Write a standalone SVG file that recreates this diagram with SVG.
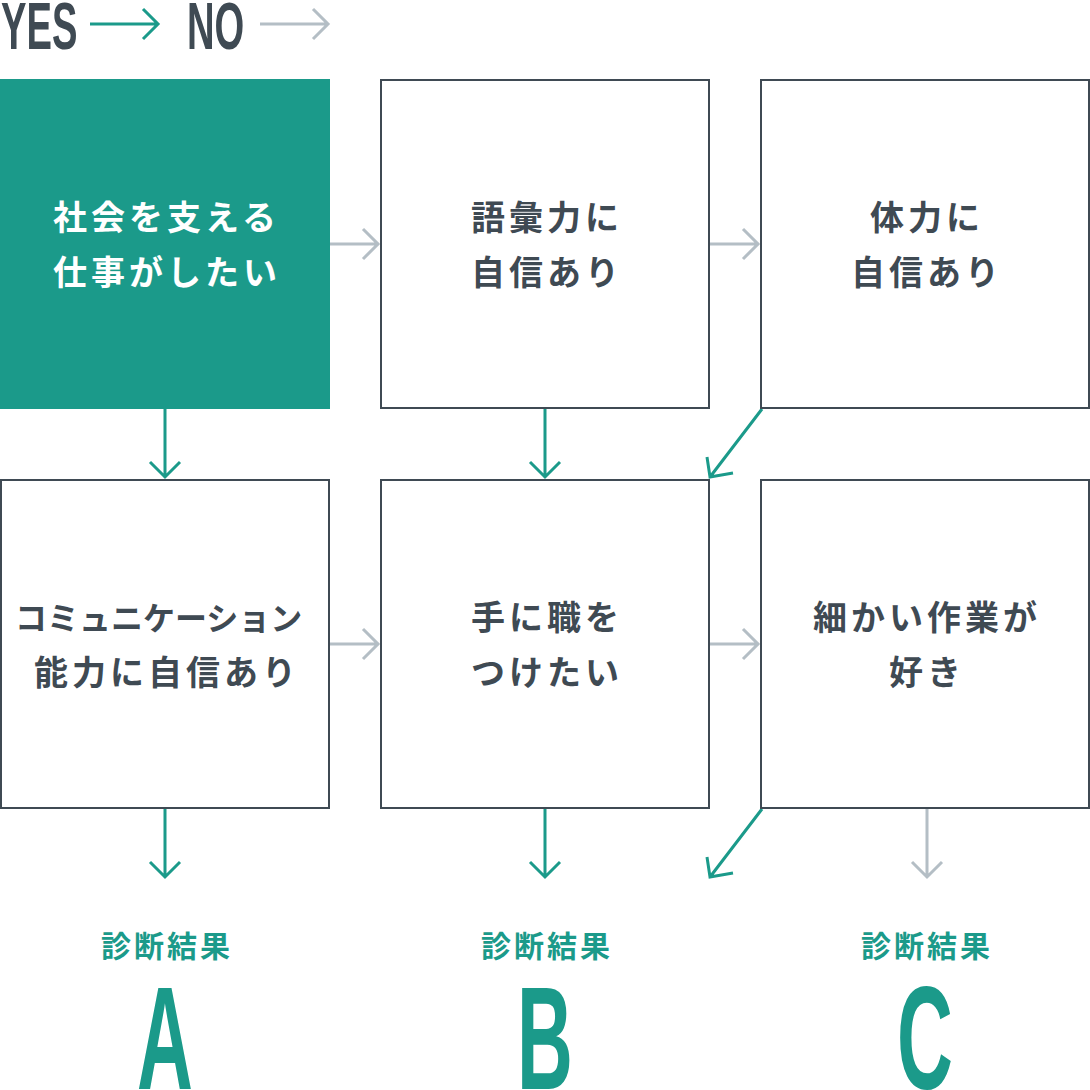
<svg xmlns="http://www.w3.org/2000/svg" width="1090" height="1090" viewBox="0 0 1090 1090">
<style>
.box{fill:#fff;stroke:#3f4a53;stroke-width:2}
.q{font-family:"Noto Sans CJK JP","Noto Sans CJK SC",sans-serif;font-size:34px;font-weight:700;fill:#3f4a53;letter-spacing:4px}
.w{fill:#fff}
.res{font-family:"Noto Sans CJK JP",sans-serif;font-size:30px;font-weight:700;fill:#1b9a8a;letter-spacing:3px}
.big{font-family:"Liberation Sans",sans-serif;font-size:146px;font-weight:700;fill:#1b9a8a}
.hd{font-family:"Liberation Sans",sans-serif;font-size:67px;font-weight:700;fill:#3f4a53}
.y{fill:none;stroke:#1b9a8a;stroke-width:3}
.n{fill:none;stroke:#b4bec5;stroke-width:3}
</style>
<g id="legend">
<text class="hd" transform="translate(1,49) scale(0.57,1)">YES</text>
<path class="y" d="M90 24H158M143 9L158 24L143 39"/>
<text class="hd" transform="translate(187,49) scale(0.57,1)">NO</text>
<path class="n" d="M260 24H328M313 9L328 24L313 39"/>
</g>
<g id="connectors">
<path class="n" d="M330 244H379M363 229L378 244L363 259"/>
<path class="n" d="M710 244H759M743 229L758 244L743 259"/>
<path class="n" d="M330 644H379M363 629L378 644L363 659"/>
<path class="n" d="M710 644H759M743 629L758 644L743 659"/>
<path class="y" d="M165 409V477M150 462L165 477L180 462"/>
<path class="y" d="M545 409V477M530 462L545 477L560 462"/>
<path class="y" d="M762 409L710 477M707 457L710 477L733 473"/>
<path class="y" d="M165 809V877M150 862L165 877L180 862"/>
<path class="y" d="M545 809V877M530 862L545 877L560 862"/>
<path class="y" d="M762 809L710 877M707 857L710 877L733 873"/>
<path class="n" d="M927 809V877M912 862L927 877L942 862"/>
</g>
<g id="node1">
<rect x="0" y="79" width="330" height="330" fill="#1b9a8a"/>
<text class="q w" x="53" y="230">社会を支える</text>
<text class="q w" x="53" y="285">仕事がしたい</text>
</g>
<g id="node2">
<rect class="box" x="381" y="80" width="328" height="328"/>
<text class="q" x="471" y="230">語彙力に</text>
<text class="q" x="471" y="285">自信あり</text>
</g>
<g id="node3">
<rect class="box" x="761" y="80" width="328" height="328"/>
<text class="q" x="870" y="230">体力に</text>
<text class="q" x="851" y="285">自信あり</text>
</g>
<g id="node4">
<rect class="box" x="1" y="480" width="328" height="328"/>
<text class="q" x="15" y="630" style="font-size:32px;letter-spacing:0px">コミュニケーション</text>
<text class="q" x="34" y="685">能力に自信あり</text>
</g>
<g id="node5">
<rect class="box" x="381" y="480" width="328" height="328"/>
<text class="q" x="471" y="630">手に職を</text>
<text class="q" x="471" y="685">つけたい</text>
</g>
<g id="node6">
<rect class="box" x="761" y="480" width="328" height="328"/>
<text class="q" x="813" y="630">細かい作業が</text>
<text class="q" x="889" y="685">好き</text>
</g>
<g id="resultA">
<text class="res" x="101" y="957">診断結果</text>
<text class="big" text-anchor="middle" transform="translate(165,1089) scale(0.53,1)">A</text>
</g>
<g id="resultB">
<text class="res" x="481" y="957">診断結果</text>
<text class="big" text-anchor="middle" transform="translate(545,1089) scale(0.53,1)">B</text>
</g>
<g id="resultC">
<text class="res" x="861" y="957">診断結果</text>
<text class="big" text-anchor="middle" transform="translate(925,1089) scale(0.53,1)">C</text>
</g>
</svg>
